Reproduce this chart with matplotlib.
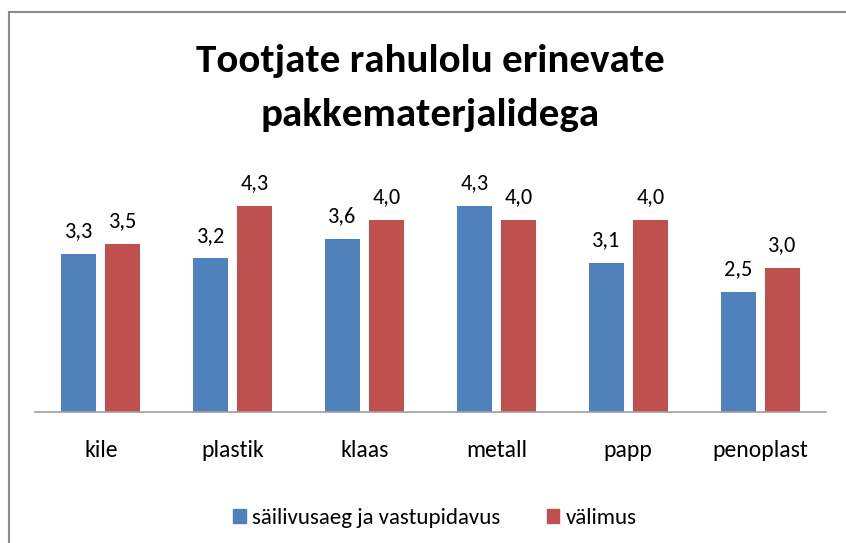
import matplotlib
matplotlib.use("Agg")
import matplotlib.pyplot as plt
from matplotlib.patches import Rectangle, Patch
import numpy as np
from matplotlib import font_manager

categories = ["kile", "plastik", "klaas", "metall", "papp", "penoplast"]
series_names = ["säilivusaeg ja vastupidavus", "välimus"]
s1 = [3.3, 3.2, 3.6, 4.3, 3.1, 2.5]
s2 = [3.5, 4.3, 4.0, 4.0, 4.0, 3.0]
colors = ["#4F81BD", "#C0504D"]
title_lines = ["Tootjate rahulolu erinevate", "pakkematerjalidega"]

names = {f.name for f in font_manager.fontManager.ttflist}
fam = "DejaVu Sans"
for cand in ["Carlito", "Liberation Sans Narrow", "IBM Plex Sans Condensed", "Open Sans Condensed"]:
    if cand in names:
        fam = cand
        break
plt.rcParams['font.family'] = [fam, 'DejaVu Sans']

W, H = 846, 543
fig = plt.figure(figsize=(W/100, H/100), dpi=100)
fig.patches.append(Rectangle((9/W, -0.1), 1.2, 1 - 12/H + 0.1, transform=fig.transFigure,
                             fill=False, edgecolor="#8c8c8c", linewidth=1.5))

ax = fig.add_axes([35/W, (H-412)/H, (826-35)/W, (412-172)/H])
x = np.arange(len(categories))
bw = 0.266
off = 0.167
b1 = ax.bar(x - off, s1, bw, color=colors[0], label=series_names[0])
b2 = ax.bar(x + off, s2, bw, color=colors[1], label=series_names[1])
for bars, vals in ((b1, s1), (b2, s2)):
    for b, v in zip(bars, vals):
        ax.annotate(f"{v:.1f}".replace(".", ","), (b.get_x() + b.get_width()/2, v),
                    xytext=(0, 12), textcoords="offset points", ha="center", va="baseline",
                    fontsize=16, color="#000000")
ax.set_xlim(-0.5, len(categories) - 0.5)
ax.set_ylim(0, 5)
ax.set_yticks([])
ax.set_xticks(x)
ax.set_xticklabels(categories, fontsize=17)
ax.tick_params(axis="x", length=0, pad=20)
for s in ("top", "right", "left"):
    ax.spines[s].set_visible(False)
ax.spines["bottom"].set_color("#a0a0a0")
ax.spines["bottom"].set_linewidth(1.2)

fig.text(430/W, 1 - 72/H, title_lines[0], ha="center", va="baseline", fontsize=29.5, fontweight="bold")
fig.text(430/W, 1 - 126/H, title_lines[1], ha="center", va="baseline", fontsize=29.5, fontweight="bold")

handles = [Patch(color=colors[0]), Patch(color=colors[1])]
fig.legend(handles, series_names, loc="center", bbox_to_anchor=(435/W, 1 - 518/H),
           ncol=2, frameon=False, fontsize=16.5, handlelength=0.55, handleheight=0.55,
           handletextpad=0.3, columnspacing=2.0)

fig.savefig("out.png", dpi=100)
